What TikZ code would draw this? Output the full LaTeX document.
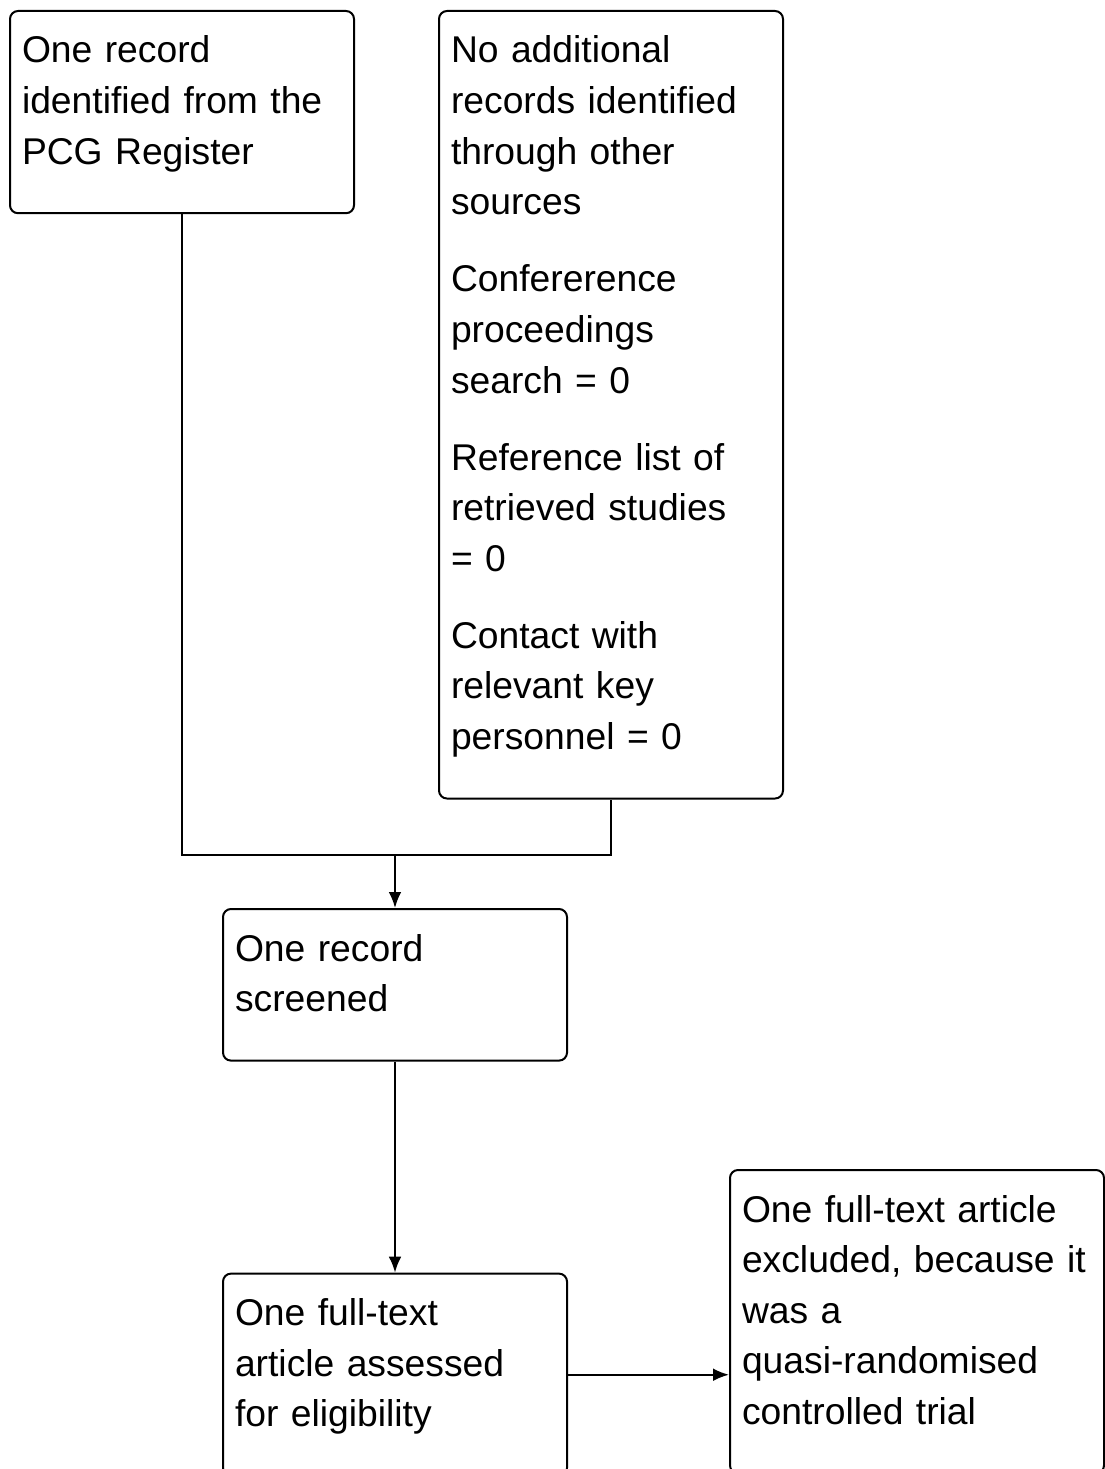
\documentclass[tikz,border=0pt]{standalone}
\usepackage{fontspec}
\setmainfont{Liberation Sans}
\usetikzlibrary{arrows.meta,positioning}
\newcommand{\boxend}{\rule[-0.6cm]{0pt}{0.6cm}}
\tikzset{
    %Define standard arrow tip
    >={Latex[length=0.4cm,width=0.32cm]},
    %Define style for boxes
    flowbox/.style={
           rectangle,
           rounded corners=0.2cm,
           draw=black, line width=0.05cm,
           text width=8cm,
           inner xsep=0.3cm,
           inner ysep=0.625cm,
           execute at end node=\boxend,
           align=left,
           font=\fontsize{26.5pt}{36pt}\selectfont},
    % Define arrow style
    pil/.style={
           ->,
           line width=0.05cm}
}
\begin{document}
\begin{tikzpicture}
\useasboundingbox (0,0) rectangle (27.6,-36.725);

 %nodes
\node[flowbox, anchor=north west] (register) at (0.225,-0.25)
    {One record\\ identified from the\\ PCG Register};
\node[flowbox, right=2.075cm of register.north east, anchor=north west] (other)
    {No additional\\ records identified\\ through other\\ sources\\[0.66cm]
     Confererence\\ proceedings\\ search = 0\\[0.66cm]
     Reference list of\\ retrieved studies\\ = 0\\[0.66cm]
     Contact with\\ relevant key\\ personnel = 0};
\node[flowbox, anchor=north west] (screened) at (5.55,-22.7)
    {One record\\ screened};
\node[flowbox, below=5.275cm of screened] (assessed)
    {One full-text\\ article assessed\\ for eligibility};
\node[flowbox, text width=8.75cm, anchor=north west] (excluded) at (18.225,-29.225)
    {One full-text article\\ excluded, because it\\ was a\\ quasi-randomised\\ controlled trial};

 %connectors
\coordinate[below=1.375cm of other.south] (merge);
\draw[line width=0.05cm] (register.south) |- (merge) -- (other.south);
\draw[pil] (merge -| screened.north) -- (screened.north);
\draw[pil] (screened) -- (assessed);
\draw[pil] (assessed.east) -- (assessed.east -| excluded.west);
\end{tikzpicture}
\end{document}
